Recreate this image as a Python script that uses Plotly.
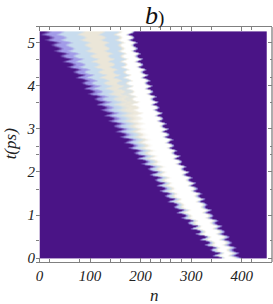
import numpy as np
import plotly.graph_objects as go

# one row every 0.0625 ps, from t = 0 to t = 5.25
t_rows = [i * 0.0625 for i in range(85)]

left_edge = [364,342,356,333,347,325,339,316,330,
             307,321,298,311,288,302,279,292,
             270,283,261,275,252,266,243,257,
             236,251,230,245,223,238,217,232,
             209,223,200,214,191,205,182,196,
             174,188,166,180,157,171,149,163,
             141,156,134,148,126,141,119,133,
             111,125,103,117,94,108,86,100,
             78,92,70,84,61,75,53,67,
             44,58,35,49,26,40,17,31,
             8,22,0,10]

white_start = [371,359,367,355,359,347,351,337,340,
               325,333,318,322,311,315,302,304,
               292,301,286,290,279,283,271,276,
               263,273,259,264,251,262,246,253,
               240,251,234,244,226,236,220,232,
               216,228,213,223,210,219,204,212,
               199,210,196,208,194,206,190,202,
               185,199,183,194,180,192,176,187,
               172,185,170,182,168,179,166,178,
               165,176,163,174,162,172,160,170,
               158,168,155,165]

right_edge = [403,387,396,381,390,375,384,368,377,
              361,370,354,362,346,355,339,347,
              332,341,326,335,319,328,313,322,
              307,316,301,310,294,303,288,297,
              282,291,276,285,270,279,264,273,
              259,269,255,265,250,260,246,256,
              242,252,238,248,234,244,230,240,
              226,236,222,232,218,228,214,224,
              210,220,206,216,202,212,198,208,
              194,205,191,201,187,197,184,194,
              180,191,177,188]

fade_t = [0, 1, 2, 5.25]
fade_n = [16, 12, 8, 7]

band_frac = [0, 0.09, 0.20, 0.26, 0.46, 0.52, 0.74, 0.78, 0.93, 1]
band_upper = [0, 1, 1, 2, 2, 3, 3, 2, 2, 4]
band_lower = [0, 0.6, 1, 1.6, 2, 2.2, 3.2, 3.6, 3.9, 4]
mix_t = [0, 3, 4.2, 5.25]
mix_w = [0, 0, 1, 1]

x_major = [0, 100, 200, 300, 400]
x_minor = [20, 80, 140, 160, 220, 240, 260, 280, 340, 420]
y_major = [0, 1, 2, 3, 4, 5]
y_minor = [0.4, 1.6, 2.4, 2.6, 3.6, 4.2, 4.6]

n_grid = np.arange(1, 451, 1.25)
# picture rows: the read edges are joined straight from row to row, so teeth stay pointed
t_fine = np.linspace(t_rows[0], t_rows[-1], (len(t_rows) - 1) * 4 + 1)
z = []
for t in t_fine:
    l = np.interp(t, t_rows, left_edge)
    w = np.interp(t, t_rows, white_start)
    r = np.interp(t, t_rows, right_edge)
    e = r - np.interp(t, fade_t, fade_n)
    m = np.interp(t, mix_t, mix_w)
    levels = [m * a + (1 - m) * b for a, b in zip(band_upper, band_lower)]
    xp = [l + f * (w - l) for f in band_frac] + [e, (e + r) / 2, r]
    fp = levels + [4, 1.6, 0]
    row = np.interp(n_grid, xp, fp)
    row[-1] = 1  # thin lavender column at the right edge of the image
    z.append(row.tolist())

colorscale = [[0, "#4a1486"], [0.25, "#a29be8"], [0.5, "#c8dcee"],
              [0.75, "#ebe6d8"], [1, "#ffffff"]]

fig = go.Figure(go.Heatmap(x=n_grid, y=t_fine, z=z, zmin=0, zmax=4, zsmooth="best",
                           colorscale=colorscale, showscale=False, hoverinfo="skip"))

FRAME = "#808080"
FONT = "Liberation Serif"
tickfont = dict(family=FONT, size=15, color="#222222", style="italic")

fig.update_layout(
    width=273, height=304, autosize=False,
    margin=dict(l=36, r=1, t=26.5, b=42),
    paper_bgcolor="white", plot_bgcolor="white",
    xaxis=dict(range=[-7, 460], tickvals=x_major, ticks="inside", ticklen=4, tickwidth=1,
               tickcolor=FRAME, showline=True, linecolor=FRAME, linewidth=1.3, mirror="allticks",
               showgrid=False, zeroline=False, tickfont=tickfont,
               minor=dict(tickvals=x_minor, ticks="inside", ticklen=2.5, tickcolor=FRAME, showgrid=False)),
    yaxis=dict(range=[-0.09, 5.36], tickvals=y_major, ticks="inside", ticklen=4, tickwidth=1,
               tickcolor=FRAME, showline=False, mirror="allticks",
               showgrid=False, zeroline=False, tickfont=tickfont,
               minor=dict(tickvals=y_minor, ticks="inside", ticklen=2.5, tickcolor=FRAME, showgrid=False)),
    shapes=[dict(type="line", xref="paper", yref="paper", x0=1, x1=1, y0=0, y1=1,
                 line=dict(color=FRAME, width=1.3))],
    annotations=[
        dict(text="<i>b</i><span style='font-size:19px'>)</span>", x=0.5, y=1.049, xref="paper", yref="paper",
             xanchor="center", yanchor="middle", showarrow=False, font=dict(family=FONT, size=26, color="#111111")),
        dict(text="<i>n</i>", x=0.5, y=-0.144, xref="paper", yref="paper", showarrow=False,
             xanchor="center", yanchor="middle", font=dict(family=FONT, size=17, color="#222222")),
        dict(text="<i>t(ps)</i>", x=-0.11, y=0.505, xref="paper", yref="paper", textangle=-90,
             xanchor="center", yanchor="middle", showarrow=False, font=dict(family=FONT, size=17, color="#222222")),
    ],
)
fig.write_html("out.html", config={"displayModeBar": False}, post_script="document.body.style.margin='0';")
